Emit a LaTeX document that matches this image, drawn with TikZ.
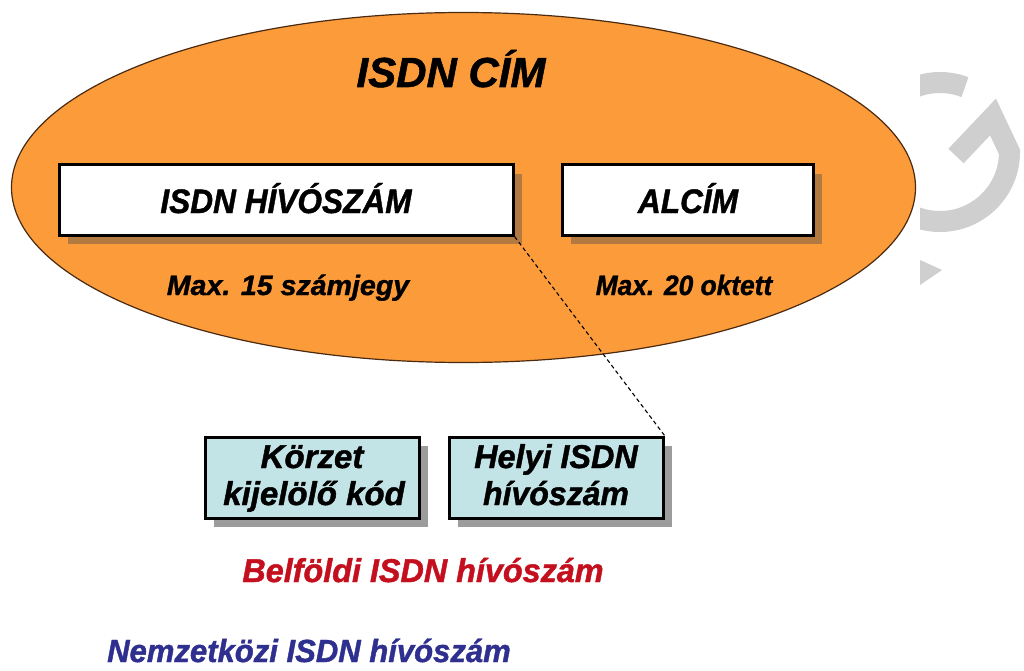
\documentclass[tikz,border=0pt]{standalone}
\usepackage{fontspec}
\setmainfont{Liberation Sans}[BoldItalicFeatures={FakeBold=1.3}]
\usepackage{graphicx}
\usetikzlibrary{shapes.geometric,shadows}
\definecolor{orng}{HTML}{FC9B3A}
\definecolor{edgebrown}{HTML}{4A2A10}
\definecolor{brshadow}{HTML}{B27A40}
\definecolor{gyshadow}{HTML}{9C9C9C}
\definecolor{lcyan}{HTML}{C3E4E6}
\definecolor{dred}{HTML}{C4101E}
\definecolor{dblue}{HTML}{2E2F8E}
\definecolor{wmgray}{HTML}{CFCFCF}
\newcommand{\sx}[2]{\scalebox{#1}[1]{#2}}
\begin{document}
\begin{tikzpicture}[x=1pt,y=-1pt,
  txt/.style={font=\bfseries\itshape, inner sep=0pt},
  wbox/.style={draw=black, line width=3pt, fill=white, inner sep=0pt,
    general shadow={fill=brshadow, shadow xshift=9pt, shadow yshift=-9pt}},
  cbox/.style={draw=black, line width=3pt, fill=lcyan, inner sep=0pt,
    general shadow={fill=gyshadow, shadow xshift=9pt, shadow yshift=-9pt}},
  wm/.style={draw=wmgray, line width=21pt}
]
\useasboundingbox (0,0) rectangle (1024,671);
\fill[white] (0,0) rectangle (1024,671);

% watermark
\begin{scope}
  \clip (920,0) rectangle (1024,671);
  \draw[wm] (940,152) ++(-69:69.5) arc[start angle=-69, end angle=-180, radius=69.5];
  \draw[wm, line join=miter] (956,156) -- (993,117) -- (1009.5,152) arc[start angle=0, end angle=180, radius=69.5];
  \fill[wmgray] (920,260) -- (942,270) -- (920,285) -- cycle;
\end{scope}

% main ellipse
\node[ellipse, draw=edgebrown, line width=1.2pt, fill=orng, minimum width=904pt, minimum height=350pt, inner sep=0pt] (cim) at (463.5,187.5) {};
\node[txt, font=\fontsize{42}{44}\selectfont\bfseries\itshape, anchor=base] (cimtxt) at (451,87) {ISDN CÍM};

\node[wbox, minimum width=454pt, minimum height=70pt] (hivo) at (286,200) {};
\node[txt, font=\fontsize{34}{36}\selectfont\bfseries\itshape, anchor=base] (hivotxt) at (286,213) {\sx{0.93}{ISDN HÍVÓSZÁM}};
\node[wbox, minimum width=251pt, minimum height=70pt] (alcim) at (687.5,200) {};
\node[txt, font=\fontsize{34}{36}\selectfont\bfseries\itshape, anchor=base] (alcimtxt) at (688,213) {\sx{0.93}{ALCÍM}};

\node[txt, font=\fontsize{28}{30}\selectfont\bfseries\itshape, anchor=base] (max15) at (288,295) {\sx{1.02}{Max. 15 számjegy}};
\node[txt, font=\fontsize{28}{30}\selectfont\bfseries\itshape, anchor=base] (max20) at (684,295) {\sx{0.94}{Max. 20 oktett}};

% lower boxes
\node[cbox, minimum width=214pt, minimum height=81pt] (korzet) at (312,477.5) {};
\node[txt, font=\fontsize{33}{37}\selectfont\bfseries\itshape, anchor=base] (k1) at (312,468) {Körzet};
\node[txt, font=\fontsize{33}{37}\selectfont\bfseries\itshape, anchor=base] (k2) at (314,505) {\sx{1.0}{kijelölő kód}};
\node[cbox, minimum width=214pt, minimum height=81pt] (helyi) at (556,477.5) {};
\node[txt, font=\fontsize{33}{37}\selectfont\bfseries\itshape, anchor=base] (h1) at (556,468) {\sx{0.98}{Helyi ISDN}};
\node[txt, font=\fontsize{33}{37}\selectfont\bfseries\itshape, anchor=base] (h2) at (556,505) {\sx{0.97}{hívószám}};

\draw[black, line width=1.1pt, dash pattern=on 4pt off 3pt] (hivo.south east) -- (helyi.north east);

\node[txt, text=dred, font=\fontsize{33}{37}\selectfont\bfseries\itshape, anchor=base] (belf) at (423,582) {\sx{0.98}{Belföldi ISDN hívószám}};
\node[txt, text=dblue, font=\fontsize{32}{36}\selectfont\bfseries\itshape, anchor=base] (nemz) at (309,662) {\sx{0.97}{Nemzetközi ISDN hívószám}};
\end{tikzpicture}
\end{document}
